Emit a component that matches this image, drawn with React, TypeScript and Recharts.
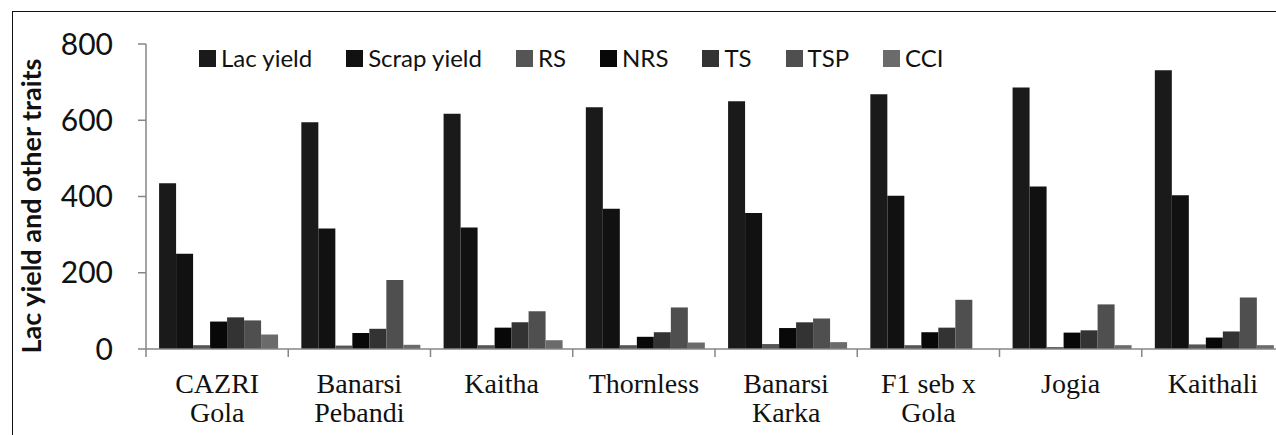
import React from "react"
import { BarChart, Bar, XAxis, YAxis } from "recharts"

const categories = ["CAZRI\nGola", "Banarsi\nPebandi", "Kaitha", "Thornless", "Banarsi\nKarka", "F1 seb x\nGola", "Jogia", "Kaithali"]
const lacYield = [435, 595, 617, 634, 650, 668, 686, 731]
const scrapYield = [250, 316, 319, 368, 357, 402, 426, 403]
const rs = [10, 9, 10, 10, 13, 10, 5, 12]
const nrs = [72, 42, 56, 32, 55, 44, 43, 30]
const ts = [83, 53, 70, 44, 70, 56, 49, 46]
const tsp = [75, 181, 99, 109, 80, 129, 117, 135]
const cci = [38, 11, 23, 17, 18, 0, 10, 10]
const yTicks = [0, 200, 400, 600, 800]

const series = [
  { key: "lac", name: "Lac yield", fill: "#1a1a1a" },
  { key: "scrap", name: "Scrap yield", fill: "#111111" },
  { key: "rs", name: "RS", fill: "#555555" },
  { key: "nrs", name: "NRS", fill: "#080808" },
  { key: "ts", name: "TS", fill: "#333333" },
  { key: "tsp", name: "TSP", fill: "#4f4f4f" },
  { key: "cci", name: "CCI", fill: "#6b6b6b" },
]

const data = categories.map((c, i) => ({
  name: c,
  lac: lacYield[i],
  scrap: scrapYield[i],
  rs: rs[i],
  nrs: nrs[i],
  ts: ts[i],
  tsp: tsp[i],
  cci: cci[i],
}))

const SANS = "Lato, 'DejaVu Sans', sans-serif"
const SERIF = "'Liberation Serif', 'DejaVu Serif', serif"
const AXIS = "#868686"

const CHART_W = 1300
const CHART_H = 435
const Y_W = 146
const M_RIGHT = 16
const PLOT_W = CHART_W - Y_W - M_RIGHT
const BAND = PLOT_W / categories.length

function CategoryTick(props: any) {
  const { x, y, payload } = props
  const lines = String(payload.value).split("\n")
  return (
    <g>
      <line x1={x - BAND / 2} y1={y} x2={x - BAND / 2} y2={y + 8} stroke={AXIS} strokeWidth={1.5} />
      <text x={x} y={y + 44} textAnchor="middle" fontFamily={SERIF} fontSize={28} fill="#111">
        {lines.map((l, i) => (
          <tspan key={i} x={x} dy={i === 0 ? 0 : 29}>{l}</tspan>
        ))}
      </text>
    </g>
  )
}

function LegendBox() {
  return (
    <div style={{ position: "absolute", top: 44, left: 199, display: "flex", gap: 34, alignItems: "center" }}>
      {series.map(s => (
        <div key={s.key} style={{ display: "flex", alignItems: "center", gap: 5 }}>
          <div style={{ width: 17, height: 17, background: s.fill }} />
          <span style={{ fontFamily: SANS, fontSize: 24, color: "#111", lineHeight: "28px" }}>{s.name}</span>
        </div>
      ))}
    </div>
  )
}

export default function App() {
  return (
    <div style={{ position: "fixed", top: 0, left: 0, width: 1276, height: 435, overflow: "hidden", background: "#fff" }}>
      <div
        style={{
          position: "absolute",
          left: 12,
          top: 11,
          width: 1400,
          height: 600,
          borderLeft: "1.5px solid #111",
          borderTop: "1.5px solid #111",
        }}
      />
      <div style={{ position: "absolute", left: 0, top: 0 }}>
        <BarChart
          width={CHART_W}
          height={CHART_H}
          data={data}
          margin={{ top: 44, right: M_RIGHT, bottom: 0, left: 0 }}
          barCategoryGap="9.2%"
          barGap={0}
        >
          <XAxis
            dataKey="name"
            height={86}
            interval={0}
            tickSize={0}
            tickMargin={0}
            tickLine={false}
            axisLine={{ stroke: AXIS, strokeWidth: 1.5 }}
            tick={<CategoryTick />}
          />
          <YAxis
            width={Y_W}
            domain={[0, 800]}
            ticks={yTicks}
            tickSize={8}
            tickMargin={25}
            axisLine={{ stroke: AXIS, strokeWidth: 1.5 }}
            tickLine={{ stroke: AXIS, strokeWidth: 1.5 }}
            tick={{ fontFamily: SANS, fontSize: 30, fill: "#111" }}
            label={() => (
              <text
                x={41}
                y={206}
                transform="rotate(-90, 41, 206)"
                textAnchor="middle"
                fontFamily={SANS}
                fontWeight={700}
                fontSize={27}
                fill="#111"
              >
                Lac yield and other traits
              </text>
            )}
          />
          {series.map(s => (
            <Bar key={s.key} dataKey={s.key} name={s.name} fill={s.fill} isAnimationActive={false} />
          ))}
        </BarChart>
      </div>
      <LegendBox />
    </div>
  )
}
